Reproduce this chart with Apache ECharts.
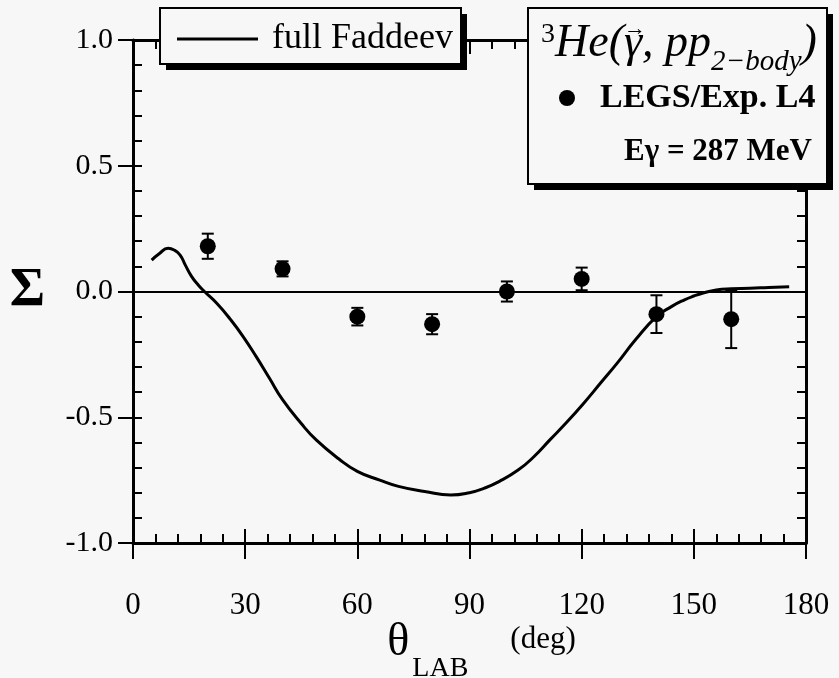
<!DOCTYPE html>
<html>
<head>
<meta charset="utf-8">
<script src="https://cdn.jsdelivr.net/npm/echarts@6/dist/echarts.min.js"></script>
<style>
  html, body { margin: 0; padding: 0; background: #f7f7f7; }
  #chart { width: 839px; height: 678px; }
</style>
</head>
<body>
<div id="chart"></div>
<script>
// full Faddeev curve
const curveTheta = [5, 7, 9.4, 11, 12.6, 14, 15.7, 17.5, 19.1, 22.4, 26, 29.5, 33, 36.5, 40, 45, 49, 55, 60, 66, 71, 78, 85, 90, 94, 98, 103, 107, 111.5, 116, 120.5, 125, 129.5, 134.5, 140, 144, 147.5, 150, 152.5, 156, 160, 165, 170, 175.5];
const curveSigma = [0.125, 0.15, 0.172, 0.165, 0.145, 0.105, 0.059, 0.025, 0.0, -0.047, -0.11, -0.18, -0.26, -0.345, -0.43, -0.525, -0.59, -0.665, -0.715, -0.75, -0.775, -0.795, -0.809, -0.80, -0.782, -0.755, -0.71, -0.66, -0.59, -0.52, -0.445, -0.365, -0.285, -0.19, -0.10, -0.06, -0.033, -0.018, -0.006, 0.006, 0.011, 0.013, 0.016, 0.019];

// LEGS data points
const dataTheta = [20, 40, 60, 80, 100, 120, 140, 160];
const dataSigma = [0.18, 0.09, -0.10, -0.13, 0.0, 0.05, -0.09, -0.11];
const dataErr = [0.05, 0.03, 0.035, 0.04, 0.04, 0.045, 0.075, 0.115];

const xTicks = [0, 30, 60, 90, 120, 150, 180];
const yTicks = [-1.0, -0.5, 0.0, 0.5, 1.0];

const serif = '"Liberation Serif", "DejaVu Serif", serif';
const ink = '#000';

const chart = echarts.init(document.getElementById('chart'));

const curve = curveTheta.map((t, i) => [t, curveSigma[i]]);
const points = dataTheta.map((t, i) => [t, dataSigma[i], dataErr[i]]);

const xBase = {
  type: 'value',
  min: xTicks[0],
  max: xTicks[xTicks.length - 1],
  interval: 30,
  splitLine: { show: false },
  axisLine: { onZero: false, lineStyle: { color: ink, width: 3 } },
  axisLabel: { show: false }
};
const yBase = {
  type: 'value',
  min: yTicks[0],
  max: yTicks[yTicks.length - 1],
  interval: 0.5,
  splitLine: { show: false },
  axisLine: { onZero: false, lineStyle: { color: ink, width: 3 } },
  axisLabel: { show: false }
};
const tickIn = (len) => ({ show: true, inside: true, length: len, lineStyle: { color: ink, width: 2 } });
const minorIn = { show: true, splitNumber: 5, length: 9, lineStyle: { color: ink, width: 2 } };

chart.setOption({
  backgroundColor: '#f7f7f7',
  animation: false,
  grid: { left: 133, right: 33, top: 40, bottom: 135, outerBoundsMode: 'none' },
  xAxis: [
    Object.assign({}, xBase, {
      position: 'bottom',
      axisTick: { show: true, inside: false, length: 16, lineStyle: { color: ink, width: 2 } },
      axisLabel: { show: true, margin: 47, color: ink, fontFamily: serif, fontSize: 31 },
      name: '{t|θ}{s|LAB}{g|(deg)}',
      nameLocation: 'middle',
      nameMoveOverlap: false,
      nameGap: 77,
      nameTextStyle: {
        rich: {
          t: { fontFamily: serif, fontSize: 46, color: ink, lineHeight: 40, verticalAlign: 'top', padding: [0, 0, 0, 24] },
          s: { fontFamily: serif, fontSize: 28, color: ink, lineHeight: 24, verticalAlign: 'top', padding: [35, 0, 0, 3] },
          g: { fontFamily: serif, fontSize: 31, color: ink, lineHeight: 34, verticalAlign: 'top', padding: [4, 0, 0, 42] }
        }
      }
    }),
    Object.assign({}, xBase, { position: 'bottom', axisLine: { show: false, onZero: false }, axisTick: tickIn(14), minorTick: minorIn }),
    Object.assign({}, xBase, { position: 'top', axisTick: tickIn(14), minorTick: minorIn })
  ],
  yAxis: [
    Object.assign({}, yBase, {
      position: 'left',
      axisTick: { show: true, inside: false, length: 15, lineStyle: { color: ink, width: 2 } },
      axisLabel: { show: true, margin: 20, color: ink, fontFamily: serif, fontSize: 30, formatter: (v) => v.toFixed(1) },
      name: 'Σ',
      nameLocation: 'middle',
      nameMoveOverlap: false,
      nameRotate: 0,
      nameGap: 88,
      nameTextStyle: { fontFamily: serif, fontSize: 54, fontWeight: 'bold', color: ink, padding: [14, 0, 0, 0] }
    }),
    Object.assign({}, yBase, { position: 'left', axisLine: { show: false, onZero: false }, axisTick: tickIn(9), minorTick: minorIn }),
    Object.assign({}, yBase, { position: 'right', axisTick: tickIn(9), minorTick: minorIn })
  ],
  legend: [
    {
      data: [{ name: 'full Faddeev', icon: 'rect' }],
      left: 177,
      top: 21,
      padding: 0,
      itemWidth: 81,
      itemHeight: 3,
      itemStyle: { color: ink },
      textStyle: { fontFamily: serif, fontSize: 36, color: ink, padding: [0, 0, 0, 9] },
      z: 20
    },
    {
      data: [{ name: 'LEGS/Exp. L4', icon: 'circle' }],
      left: 559,
      top: 81,
      padding: 0,
      itemWidth: 16,
      itemHeight: 16,
      itemStyle: { color: ink },
      textStyle: { fontFamily: serif, fontSize: 34, fontWeight: 'bold', color: ink, padding: [0, 0, 0, 20] },
      z: 20
    }
  ],
  graphic: [
    { type: 'rect', z: 10, shape: { x: 166, y: 14, width: 301, height: 56 }, style: { fill: ink } },
    { type: 'rect', z: 11, shape: { x: 160, y: 8, width: 301, height: 56 }, style: { fill: '#f7f7f7', stroke: ink, lineWidth: 2 } },
    { type: 'rect', z: 10, shape: { x: 534, y: 14, width: 299, height: 176 }, style: { fill: ink } },
    { type: 'rect', z: 11, shape: { x: 528, y: 8, width: 299, height: 176 }, style: { fill: '#f7f7f7', stroke: ink, lineWidth: 2 } },
    {
      type: 'text', z: 20, left: 541, top: 21,
      style: {
        text: '{sup|3}{it|He(γ, pp}{sub|2−body}{it|)}',
        rich: {
          sup: { fontFamily: serif, fontSize: 28, fill: ink, verticalAlign: 'top', lineHeight: 30 },
          it: { fontFamily: serif, fontSize: 46, fontStyle: 'italic', fill: ink, lineHeight: 56, verticalAlign: 'top' },
          sub: { fontFamily: serif, fontSize: 29, fontStyle: 'italic', fill: ink, verticalAlign: 'bottom', lineHeight: 32 }
        }
      }
    },
    // vector arrow over the photon
    {
      type: 'text', z: 21, left: 624, top: 18,
      style: { text: '→', fontFamily: serif, fontSize: 22, fill: ink }
    },
    {
      type: 'text', z: 20, left: 624, top: 136,
      style: { text: 'Eγ = 287 MeV', fontFamily: serif, fontSize: 31, fontWeight: 'bold', fill: ink }
    }
  ],
  series: [
    {
      name: 'full Faddeev',
      type: 'line',
      data: curve,
      smooth: true,
      symbol: 'none',
      lineStyle: { color: ink, width: 3 },
      z: 3
    },
    {
      name: 'LEGS/Exp. L4',
      type: 'scatter',
      data: points.map((p) => [p[0], p[1]]),
      symbol: 'circle',
      symbolSize: 16,
      itemStyle: { color: ink, opacity: 1 },
      markLine: {
        silent: true,
        symbol: 'none',
        label: { show: false },
        lineStyle: { color: ink, width: 2, type: 'solid' },
        data: [{ yAxis: 0 }]
      },
      z: 4
    },
    {
      name: 'errors',
      type: 'custom',
      data: points,
      renderItem: (params, api) => {
        const x = api.value(0);
        const y = api.value(1);
        const e = api.value(2);
        const top = api.coord([x, y + e]);
        const bot = api.coord([x, y - e]);
        const half = 6;
        const style = { stroke: ink, lineWidth: 2 };
        return {
          type: 'group',
          children: [
            { type: 'line', shape: { x1: top[0], y1: top[1], x2: bot[0], y2: bot[1] }, style },
            { type: 'line', shape: { x1: top[0] - half, y1: top[1], x2: top[0] + half, y2: top[1] }, style },
            { type: 'line', shape: { x1: bot[0] - half, y1: bot[1], x2: bot[0] + half, y2: bot[1] }, style }
          ]
        };
      },
      z: 4
    }
  ]
});
</script>
</body>
</html>
